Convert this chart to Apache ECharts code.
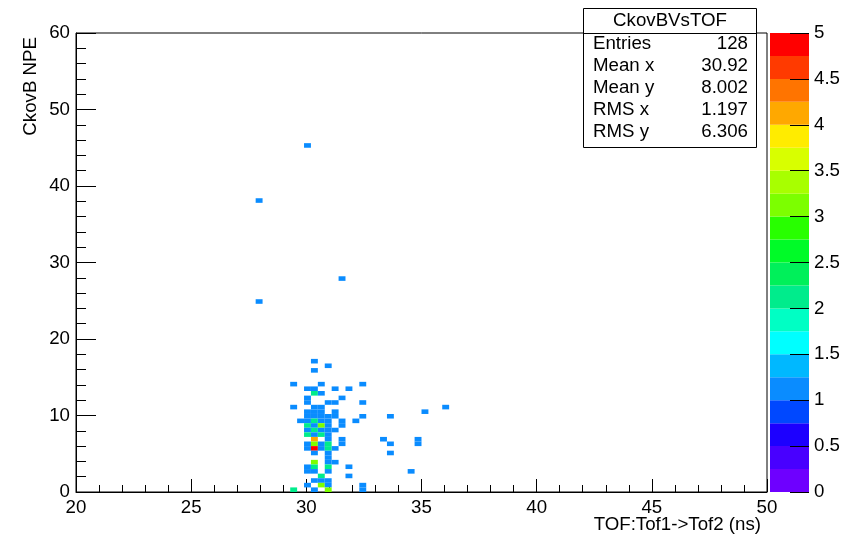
<!DOCTYPE html>
<html>
<head>
<meta charset="utf-8">
<script src="https://cdn.jsdelivr.net/npm/echarts@6/dist/echarts.min.js"></script>
<style>
  html, body { margin: 0; padding: 0; background: #fff; }
  #chart { width: 848px; height: 534px; }
</style>
</head>
<body>
<div id="chart"></div>
<script>
// 2D histogram CkovBVsTOF: 100 x 100 bins, TOF 20-50 ns, NPE 0-60
const TOF_MIN = 20, TOF_MAX = 50, TOF_BINS = 100;
const NPE_MIN = 0, NPE_MAX = 60, NPE_BINS = 100;

// Filled bins (bin indices along TOF and NPE, and entries per bin)
const tofBin = [
  33, 26, 38, 26,
  34, 36, 34,
  31, 35, 41,
  33, 34, 37, 39,
  34, 35,
  33, 38,
  33, 36, 37, 41,
  31, 34, 35, 53,
  33, 34, 35, 37, 50,
  33, 34, 35, 36, 37, 41, 45,
  32, 33, 34, 35, 36, 38, 40,
  33, 34, 35, 36, 38,
  33, 34, 35, 36, 37,
  33, 34, 35, 36,
  34, 36, 38, 44, 49,
  33, 34, 35, 36, 38, 45, 49,
  33, 34, 35, 36, 37,
  34, 36, 45,
  36,
  34, 36, 37,
  33, 34, 36, 39,
  33, 34, 36, 48,
  35, 39,
  34, 35, 36,
  33, 35, 36, 41,
  31, 34, 36, 41
];
const npeBin = [
  75, 63, 46, 41,
  28, 27, 26,
  23, 23, 23,
  22, 22, 22, 22,
  21, 21,
  20, 20,
  19, 19, 19, 19,
  18, 18, 18, 18,
  17, 17, 17, 17, 17,
  16, 16, 16, 16, 16, 16, 16,
  15, 15, 15, 15, 15, 15, 15,
  14, 14, 14, 14, 14,
  13, 13, 13, 13, 13,
  12, 12, 12, 12,
  11, 11, 11, 11, 11,
  10, 10, 10, 10, 10, 10, 10,
  9, 9, 9, 9, 9,
  8, 8, 8,
  7,
  6, 6, 6,
  5, 5, 5, 5,
  4, 4, 4, 4,
  3, 3,
  2, 2, 2,
  1, 1, 1, 1,
  0, 0, 0, 0
];
const binCount = [
  1, 1, 1, 1,
  1, 1, 1,
  1, 1, 1,
  1, 1, 1, 1,
  2, 1,
  1, 1,
  1, 1, 1, 1,
  1, 1, 1, 1,
  1, 1, 1, 1, 1,
  1, 1, 1, 1, 1, 1, 1,
  1, 1, 2, 1, 1, 1, 1,
  2, 1, 3, 1, 1,
  1, 2, 1, 1, 1,
  2, 1, 2, 1,
  4, 1, 1, 1, 1,
  1, 3, 1, 2, 1, 1, 1,
  1, 5, 1, 2, 1,
  1, 1, 1,
  1,
  3, 1, 1,
  1, 2, 2, 1,
  1, 1, 1, 1,
  2, 1,
  1, 1, 1,
  1, 3, 1, 1,
  2, 1, 3, 1
];

// Colour palette: 20 contour levels from 0 to 5
const zLevels = [0, 0.25, 0.5, 0.75, 1, 1.25, 1.5, 1.75, 2, 2.25, 2.5,
                 2.75, 3, 3.25, 3.5, 3.75, 4, 4.25, 4.5, 4.75, 5];
const zColors = ['#6e00ff', '#4800ff', '#1c00ff', '#0048ff', '#0a8cff',
                 '#00b8ff', '#00ffff', '#00ffc4', '#00ec8c', '#00f05a',
                 '#00fb28', '#28ff00', '#7cff00', '#a8ff00', '#d8ff00',
                 '#ffec00', '#ffa800', '#ff7400', '#ff3a00', '#ff0000'];

// Statistics box
const statTitle = 'CkovBVsTOF';
const statLabels = ['Entries', 'Mean x', 'Mean y', 'RMS x', 'RMS y'];
const statValues = ['128', '30.92', '8.002', '1.197', '6.306'];

const TOF_STEP = (TOF_MAX - TOF_MIN) / TOF_BINS;
const NPE_STEP = (NPE_MAX - NPE_MIN) / NPE_BINS;
const Z_MIN = zLevels[0], Z_MAX = zLevels[zLevels.length - 1];
const FONT = '"Liberation Sans", Arial, Helvetica, sans-serif';
const FS = 18.7;

function colorFor(n) {
  let k = Math.floor((n - Z_MIN) / (Z_MAX - Z_MIN) * zColors.length);
  k = Math.max(0, Math.min(zColors.length - 1, k));
  return zColors[k];
}

const cellData = tofBin.map((b, k) => [
  TOF_MIN + b * TOF_STEP,
  NPE_MIN + npeBin[k] * NPE_STEP,
  binCount[k]
]);

const bandData = zColors.map((c, k) => [zLevels[k], zLevels[k + 1], k]);

const GRID = { left: 76, right: 81, top: 33, bottom: 42 };
const PLOT_BOTTOM = 534 - GRID.bottom;

const chart = echarts.init(document.getElementById('chart'), null, { renderer: 'canvas' });

const axisText = { color: '#000', fontFamily: FONT, fontSize: FS };

// Stats box elements
const boxL = 583.5, boxR = 756.5, boxT = 8.5, boxB = 147.5;
const statGraphics = [
  { type: 'rect', shape: { x: boxL, y: boxT, width: boxR - boxL, height: boxB - boxT },
    style: { fill: '#fff', stroke: '#000', lineWidth: 1 }, z: 10 },
  { type: 'line', shape: { x1: boxL, y1: 33.5, x2: boxR, y2: 33.5 },
    style: { stroke: '#000', lineWidth: 1 }, z: 11 },
  { type: 'text', x: (boxL + boxR) / 2, y: 21, z: 11,
    style: { text: statTitle, fill: '#000', font: FS + 'px ' + FONT, textAlign: 'center', textVerticalAlign: 'middle' } }
];
statLabels.forEach((lab, k) => {
  const y = 44 + k * 22;
  statGraphics.push({ type: 'text', x: 593, y: y, z: 11,
    style: { text: lab, fill: '#000', font: FS + 'px ' + FONT, textAlign: 'left', textVerticalAlign: 'middle' } });
  statGraphics.push({ type: 'text', x: 748, y: y, z: 11,
    style: { text: statValues[k], fill: '#000', font: FS + 'px ' + FONT, textAlign: 'right', textVerticalAlign: 'middle' } });
});

const option = {
  backgroundColor: '#fff',
  animation: false,
  grid: [
    Object.assign({ show: true, borderColor: '#000', borderWidth: 1, backgroundColor: 'transparent',
                    containLabel: false, outerBoundsMode: 'none' }, GRID),
    { left: 770, width: 39, top: GRID.top, bottom: GRID.bottom, containLabel: false, outerBoundsMode: 'none' }
  ],
  xAxis: [
    {
      gridIndex: 0, type: 'value', min: TOF_MIN, max: TOF_MAX, interval: 5,
      axisLine: { show: true, onZero: false, lineStyle: { color: '#000', width: 1 } },
      axisTick: { show: true, inside: true, length: 13, lineStyle: { color: '#000', width: 1 } },
      minorTick: { show: true, splitNumber: 5, length: 7, lineStyle: { color: '#000', width: 1 } },
      splitLine: { show: false },
      minorSplitLine: { show: false },
      axisLabel: Object.assign({ margin: 6 }, axisText)
    },
    {
      gridIndex: 1, type: 'value', min: 0, max: 1, show: false
    }
  ],
  yAxis: [
    {
      gridIndex: 0, type: 'value', min: NPE_MIN, max: NPE_MAX, interval: 10,
      axisLine: { show: true, onZero: false, lineStyle: { color: '#000', width: 1 } },
      axisTick: { show: true, inside: true, length: 20, lineStyle: { color: '#000', width: 1 } },
      minorTick: { show: true, splitNumber: 5, length: 10, lineStyle: { color: '#000', width: 1 } },
      splitLine: { show: false },
      minorSplitLine: { show: false },
      axisLabel: Object.assign({ margin: 6 }, axisText)
    },
    {
      gridIndex: 1, type: 'value', min: Z_MIN, max: Z_MAX, interval: 0.5, position: 'right',
      z: 5,
      axisLine: { show: false, onZero: false },
      axisTick: { show: true, inside: true, length: 19, lineStyle: { color: '#000', width: 1 } },
      splitLine: { show: false },
      axisLabel: Object.assign({ margin: 5 }, axisText)
    }
  ],
  series: [
    {
      type: 'custom',
      name: 'CkovBVsTOF',
      xAxisIndex: 0, yAxisIndex: 0,
      clip: true,
      data: cellData,
      encode: { x: 0, y: 1 },
      renderItem: function (params, api) {
        const x0 = api.value(0), y0 = api.value(1), n = api.value(2);
        const p0 = api.coord([x0, y0]);
        const p1 = api.coord([x0 + TOF_STEP, y0 + NPE_STEP]);
        return {
          type: 'rect',
          shape: { x: p0[0], y: p1[1], width: p1[0] - p0[0], height: p0[1] - p1[1] },
          style: { fill: colorFor(n) }
        };
      },
      z: 2
    },
    {
      type: 'custom',
      name: 'palette',
      xAxisIndex: 1, yAxisIndex: 1,
      data: bandData,
      encode: { y: [0, 1] },
      renderItem: function (params, api) {
        const lo = api.value(0), hi = api.value(1), k = api.value(2);
        const a = api.coord([0, lo]);
        const b = api.coord([1, hi]);
        return {
          type: 'rect',
          shape: { x: a[0], y: b[1], width: b[0] - a[0], height: a[1] - b[1] },
          style: { fill: zColors[k] }
        };
      },
      z: 1
    }
  ],
  graphic: [
    // axis titles
    { type: 'text', x: 761, y: 525,
      style: { text: 'TOF:Tof1->Tof2 (ns)', fill: '#000', font: FS + 'px ' + FONT,
               textAlign: 'right', textVerticalAlign: 'middle' } },
    { type: 'text', x: 31, y: GRID.top + 4, rotation: Math.PI / 2,
      style: { text: 'CkovB NPE', fill: '#000', font: FS + 'px ' + FONT,
               textAlign: 'right', textVerticalAlign: 'middle' } }
  ].concat(statGraphics)
};

chart.setOption(option);
</script>
</body>
</html>
